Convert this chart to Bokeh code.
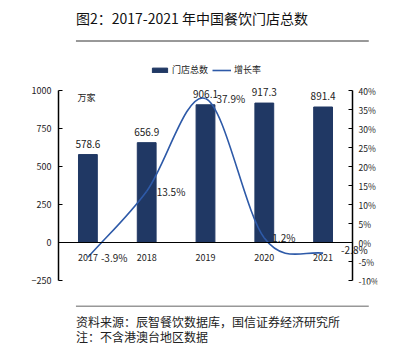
from bokeh.plotting import figure
from bokeh.layouts import column
from bokeh.models import (Range1d, LinearAxis, FixedTicker, PrintfTickFormatter,
                          Label, Legend, LegendItem, ColumnDataSource)
from bokeh.embed import file_html
from bokeh.resources import INLINE
from bokeh.core.properties import value

# ---- data ----
years = ["2017", "2018", "2019", "2020", "2021"]
stores = [578.6, 656.9, 906.1, 917.3, 891.4]          # 万家
growth = [-3.9, 13.5, 37.9, 1.2, -2.8]                # %
left_ticks = [-250, 0, 250, 500, 750, 1000]
right_ticks = [-10, -5, 0, 5, 10, 15, 20, 25, 30, 35, 40]
title_text = "图2：2017-2021 年中国餐饮门店总数"
source_text = "资料来源：辰智餐饮数据库，国信证券经济研究所"
note_text = "注：不含港澳台地区数据"
unit_text = "万家"
bar_name = "门店总数"
line_name = "增长率"

# ---- style ----
FONT = "Noto Sans CJK SC"
BAR_COLOR = "#203864"
LINE_COLOR = "#2E5AA8"
TXT = "#222222"
W = 402
px_l = 1250 / 190.0
px_r = 50 / 190.0
px_x = 294 / 5.0


def blank(h):
    f = figure(width=W, height=h, output_backend="svg", toolbar_location=None,
               x_range=Range1d(0, W), y_range=Range1d(h, 0),
               x_axis_type=None, y_axis_type=None,
               min_border=0, min_border_left=0, min_border_right=0,
               min_border_top=0, min_border_bottom=0)
    f.outline_line_color = None
    f.grid.visible = False
    return f


# ---- header ----
head = blank(48)
head.text(x=[22], y=[17], text=[title_text], text_font=value(FONT), text_font_size="14px",
          text_color="#111111", text_baseline="middle")
head.segment(x0=[22], y0=[40.5], x1=[391], y1=[40.5], line_color="#333333", line_width=1)

# ---- main chart ----
idx = list(range(len(years)))
p = figure(width=W, height=257, output_backend="svg", toolbar_location=None,
           x_range=Range1d(-0.5, len(years) - 0.5 + 25 / px_x),
           y_range=Range1d(-250 - 4 * px_l, 1000 + 40 * px_l),
           min_border_left=58, min_border_right=25, min_border_top=2, min_border_bottom=21,
           background_fill_color="white", border_fill_color="white")
p.outline_line_color = None
p.grid.visible = False
p.extra_y_ranges = {"pct": Range1d(-10 - 4 * px_r, 40 + 40 * px_r)}

xa = p.xaxis[0]
xa.fixed_location = 0
xa.bounds = (-0.5, len(years) - 0.5)
xa.ticker = FixedTicker(ticks=idx)
xa.major_label_overrides = {i: y for i, y in enumerate(years)}
xa.major_tick_line_color = None
xa.minor_tick_line_color = None
xa.axis_line_color = "black"
xa.axis_line_width = 1.2
xa.major_label_standoff = 5
xa.major_label_text_font = FONT
xa.major_label_text_font_size = "9px"
xa.major_label_text_color = TXT

ya = p.yaxis[0]
ya.bounds = (-250, 1000)
ya.ticker = FixedTicker(ticks=left_ticks)
ya.minor_tick_line_color = None
ya.major_tick_in = 4
ya.major_tick_out = 0
ya.major_tick_line_width = 1.2
ya.axis_line_width = 1.5
ya.major_label_standoff = 7
ya.major_label_text_font = FONT
ya.major_label_text_font_size = "9px"
ya.major_label_text_color = TXT

ra = LinearAxis(y_range_name="pct", bounds=(-10, 40), ticker=FixedTicker(ticks=right_ticks),
                formatter=PrintfTickFormatter(format="%d%%"),
                fixed_location=len(years) - 0.5)
ra.minor_tick_line_color = None
ra.major_tick_in = 4
ra.major_tick_out = 0
ra.major_tick_line_width = 1.2
ra.axis_line_width = 1.5
ra.major_label_standoff = 6
ra.major_label_text_font = FONT
ra.major_label_text_font_size = "8.5px"
ra.major_label_text_color = TXT
p.add_layout(ra, "right")

src = ColumnDataSource(dict(x=idx, stores=stores, growth=growth,
                            slab=[f"{v:.1f}" for v in stores],
                            glab=[f"{v:.1f}%" for v in growth],
                            gx=[13, 10, 11, 8, 18], gy=[0, 0, 0, 0, -4]))

bars = p.vbar(x="x", top="stores", width=0.32, color=BAR_COLOR, source=src)
p.text(x="x", y="stores", text="slab", source=src, text_align="center", text_baseline="bottom",
       y_offset=-7, text_font=value(FONT), text_font_size="10px", text_color=TXT)

# smooth growth line (Catmull-Rom style bezier through the data points)
n = len(growth)
tang = []
for i in range(n):
    if i == 0:
        tang.append(growth[1] - growth[0])
    elif i == n - 1:
        tang.append((growth[-1] - growth[-2]) / 2)
    else:
        tang.append((growth[i + 1] - growth[i - 1]) / 2)
bz = dict(x0=[], y0=[], x1=[], y1=[], cx0=[], cy0=[], cx1=[], cy1=[])
for i in range(n - 1):
    bz["x0"].append(idx[i]); bz["y0"].append(growth[i])
    bz["x1"].append(idx[i + 1]); bz["y1"].append(growth[i + 1])
    bz["cx0"].append(idx[i] + 1 / 3); bz["cy0"].append(growth[i] + tang[i] / 3)
    bz["cx1"].append(idx[i + 1] - 1 / 3); bz["cy1"].append(growth[i + 1] - tang[i + 1] / 3)
p.bezier(x0="x0", y0="y0", x1="x1", y1="y1", cx0="cx0", cy0="cy0", cx1="cx1", cy1="cy1",
         source=ColumnDataSource(bz), line_color=LINE_COLOR, line_width=1.6, y_range_name="pct")
# legend proxy (no visible mark)
leg_line = p.line(x=[idx[0]], y=[float("nan")], line_color=LINE_COLOR, line_width=1.6,
                  y_range_name="pct")

p.text(x="x", y="growth", text="glab", source=src, x_offset="gx", y_offset="gy",
       text_align="left", text_baseline="middle", y_range_name="pct",
       text_font=value(FONT), text_font_size="10px", text_color=TXT)

legend = Legend(items=[LegendItem(label=bar_name, renderers=[bars]),
                       LegendItem(label=line_name, renderers=[leg_line])],
                location=(92, 208), orientation="horizontal",
                background_fill_alpha=0, border_line_alpha=0, padding=0, margin=0,
                spacing=4, label_standoff=3, glyph_width=19, glyph_height=6,
                label_text_font=FONT, label_text_font_size="9px", label_text_color=TXT,
                label_height=10)
p.add_layout(legend, "center")

p.add_layout(Label(x=19, y=187, x_units="screen", y_units="screen", text=unit_text,
                   text_font=FONT, text_font_size="9px", text_color=TXT, text_baseline="middle"))

# ---- footer ----
foot = blank(40)
foot.segment(x0=[22], y0=[0.5], x1=[391], y1=[0.5], line_color="#333333", line_width=1)
foot.text(x=[22, 22], y=[16, 31], text=[source_text, note_text], text_font=value(FONT),
          text_font_size="12px", text_color=TXT, text_baseline="middle")

layout = column(head, p, foot, spacing=0)
open("out.html", "w").write(file_html(layout, INLINE))
